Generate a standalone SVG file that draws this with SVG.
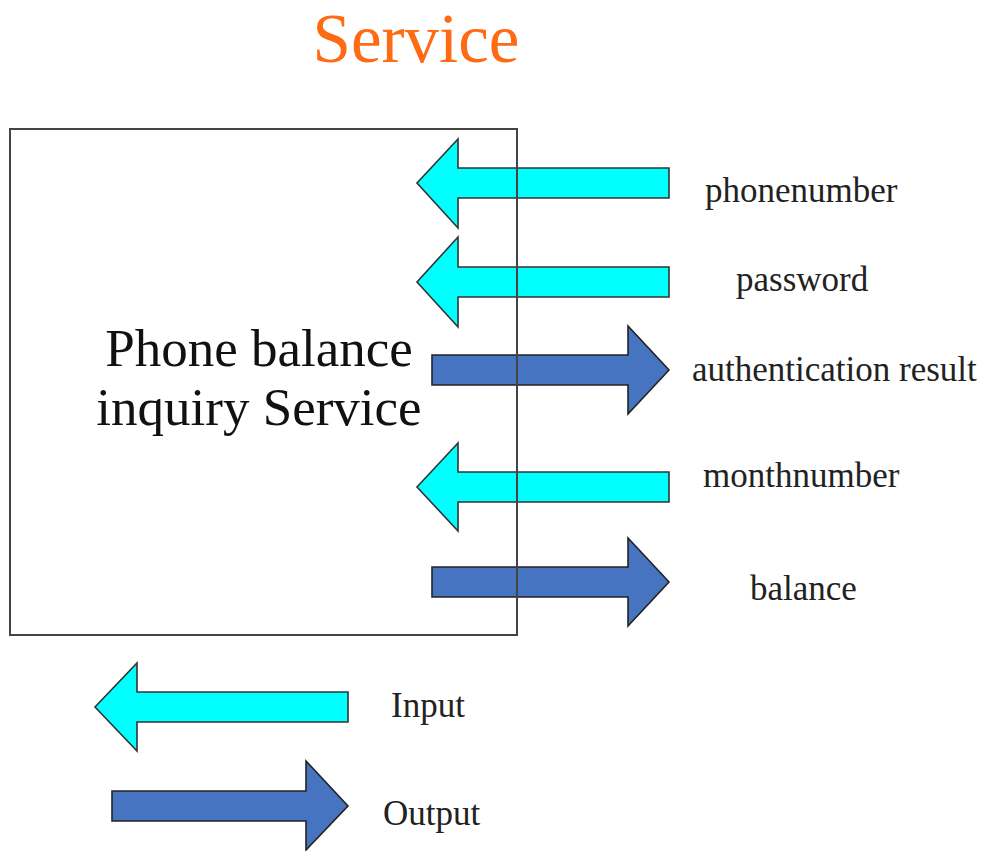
<svg xmlns="http://www.w3.org/2000/svg" width="990" height="851" viewBox="0 0 990 851">
  <style>
    .lbl { font-family: "Liberation Serif", "Times New Roman", serif; font-size: 35px; fill: #222; }
    .main { font-family: "Liberation Serif", "Times New Roman", serif; font-size: 53px; fill: #111; text-anchor: middle; }
    .title { font-family: "Liberation Serif", "Times New Roman", serif; font-size: 69px; fill: #FF6A14; text-anchor: middle; }
    .in { fill: #00FFFF; stroke: #333; stroke-width: 1.6; stroke-linejoin: miter; }
    .out { fill: #4674C0; stroke: #222; stroke-width: 1.6; stroke-linejoin: miter; }
    .box { fill: none; stroke: #444; stroke-width: 2; }
  </style>
  <rect x="0" y="0" width="990" height="851" fill="#fff"/>
  <text class="title" x="416" y="62">Service</text>
  <g id="connectors">
    <polygon id="arrow-phonenumber" class="in" points="669,168 458,168 458,139 417,183 458,228 458,198 669,198"/>
    <polygon id="arrow-password" class="in" points="669,267 458,267 458,237 417,282 458,327 458,297 669,297"/>
    <polygon id="arrow-auth" class="out" points="432,355 628,355 628,326 669,370 628,414 628,385 432,385"/>
    <polygon id="arrow-monthnumber" class="in" points="669,472 458,472 458,443 417,487 458,531 458,502 669,502"/>
    <polygon id="arrow-balance" class="out" points="432,567 628,567 628,538 669,582 628,626 628,597 432,597"/>
  </g>
  <g id="service-box">
    <rect class="box" x="10" y="129" width="507" height="506"/>
    <text class="main" x="259" y="366">Phone balance</text>
    <text class="main" x="259" y="425">inquiry Service</text>
  </g>
  <g id="label-phonenumber"><text class="lbl" x="705" y="202">phonenumber</text></g>
  <g id="label-password"><text class="lbl" x="736" y="291">password</text></g>
  <g id="label-auth"><text class="lbl" x="692" y="381">authentication result</text></g>
  <g id="label-monthnumber"><text class="lbl" x="703" y="487">monthnumber</text></g>
  <g id="label-balance"><text class="lbl" x="750" y="600">balance</text></g>
  <g id="legend-input">
    <polygon class="in" points="348,692 137,692 137,663 95,707 137,751 137,722 348,722"/>
    <text class="lbl" x="391" y="717">Input</text>
  </g>
  <g id="legend-output">
    <polygon class="out" points="112,791 306,791 306,761 348,806 306,850 306,821 112,821"/>
    <text class="lbl" x="383" y="825">Output</text>
  </g>
</svg>
